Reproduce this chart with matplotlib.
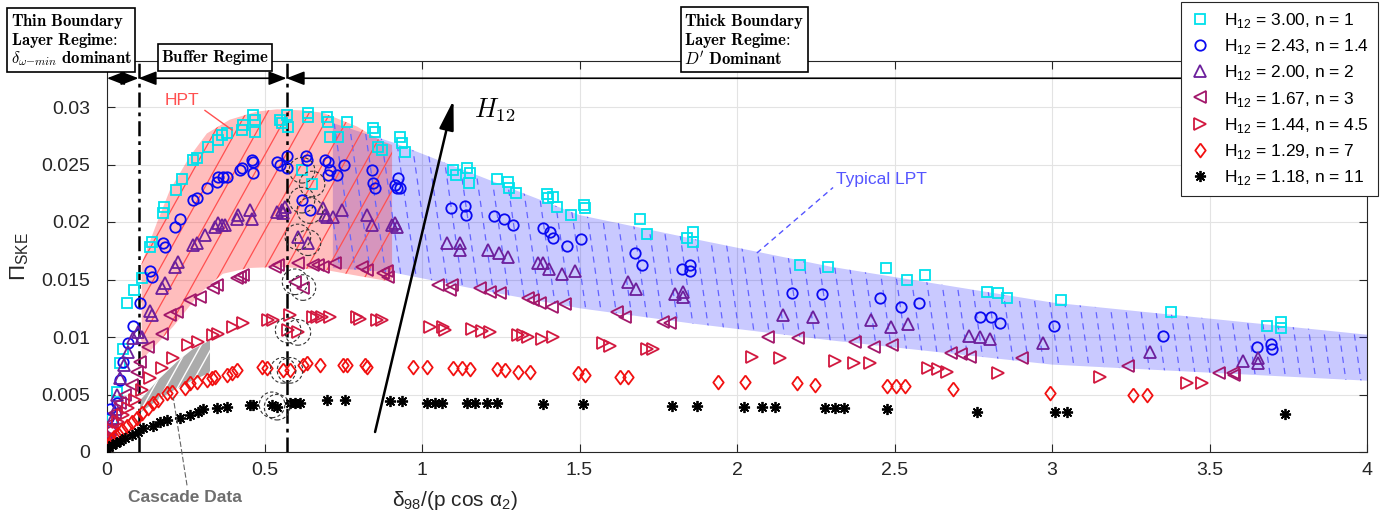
import numpy as np
import matplotlib
matplotlib.use('Agg')
import matplotlib.pyplot as plt
from matplotlib.collections import LineCollection
from matplotlib.ticker import FuncFormatter

plt.rcParams['font.family'] = ['Liberation Sans', 'DejaVu Sans']
plt.rcParams['mathtext.fontset'] = 'dejavusans'

# ---------------- data (x = delta98/(p cos a2), y = Pi_SKE) ----------------
cyan_pts = [(0.003,0.0010),(0.016,0.0028),(0.032,0.0052),(0.041,0.0077),(0.051,0.0090),(0.063,0.0130),
            (0.086,0.0141),(0.111,0.0151),(0.137,0.0178),(0.143,0.0183),(0.178,0.0208),(0.181,0.0213),
            (0.219,0.0228),(0.238,0.0237),(0.273,0.0254),(0.286,0.0256),(0.321,0.0265),(0.352,0.0271),
            (0.365,0.0276),(0.381,0.0277),(0.429,0.0280),(0.432,0.0284),(0.463,0.0293),(0.470,0.0289),
            (0.470,0.0278),(0.549,0.0289),(0.556,0.0286),(0.571,0.0293),(0.575,0.0283),(0.638,0.0295),
            (0.638,0.0291),(0.698,0.0291),(0.702,0.0287),(0.708,0.0274),(0.733,0.0274),(0.762,0.0287),
            (0.844,0.0282),(0.851,0.0278),(0.860,0.0265),(0.873,0.0263),(0.930,0.0274),(0.937,0.0269),
            (0.946,0.0261),(1.098,0.0245),(1.108,0.0241),(1.143,0.0247),(1.152,0.0243),(1.149,0.0234),
            (1.238,0.0237),(1.273,0.0235),(1.276,0.0230),(1.298,0.0225),(1.397,0.0224),(1.400,0.0221),
            (1.416,0.0222),(1.429,0.0213),(1.473,0.0206),(1.514,0.0215),(1.517,0.0212),(1.692,0.0203),
            (1.714,0.0190),(1.841,0.0186),(1.860,0.0191),(1.860,0.0183),(2.200,0.0163),(2.289,0.0161),
            (2.473,0.0160),(2.540,0.0150),(2.597,0.0154),(2.794,0.0139),(2.829,0.0138),(2.857,0.0134),
            (3.029,0.0132),(3.378,0.0122),(3.683,0.0110),(3.727,0.0113),(3.727,0.0108)]
blue_pts = [(0.010,0.0019),(0.003,0.0030),(0.010,0.0037),(0.032,0.0043),(0.041,0.0063),(0.051,0.0078),
            (0.067,0.0095),(0.083,0.0110),(0.105,0.0130),(0.137,0.0157),(0.143,0.0152),(0.178,0.0182),
            (0.184,0.0178),(0.216,0.0196),(0.232,0.0203),(0.273,0.0219),(0.286,0.0221),(0.317,0.0230),
            (0.349,0.0235),(0.352,0.0239),(0.368,0.0239),(0.381,0.0239),(0.422,0.0245),(0.429,0.0247),
            (0.460,0.0254),(0.463,0.0252),(0.463,0.0243),(0.540,0.0252),(0.549,0.0250),(0.571,0.0257),
            (0.571,0.0247),(0.632,0.0257),(0.635,0.0254),(0.692,0.0254),(0.702,0.0252),(0.708,0.0245),
            (0.702,0.0241),(0.730,0.0241),(0.752,0.0250),(0.841,0.0245),(0.844,0.0234),(0.851,0.0230),
            (0.914,0.0232),(0.924,0.0238),(0.930,0.0230),(0.921,0.0230),(1.092,0.0212),(1.137,0.0214),
            (1.140,0.0206),(1.229,0.0205),(1.260,0.0203),(1.289,0.0197),(1.384,0.0195),(1.406,0.0191),
            (1.416,0.0186),(1.460,0.0179),(1.505,0.0185),(1.676,0.0173),(1.698,0.0163),(1.825,0.0159),
            (1.851,0.0163),(1.851,0.0157),(2.175,0.0138),(2.270,0.0137),(2.454,0.0134),(2.521,0.0126),
            (2.578,0.0130),(2.771,0.0117),(2.806,0.0117),(2.835,0.0112),(3.006,0.0110),(3.352,0.0101),
            (3.651,0.0091),(3.695,0.0094),(3.698,0.0090)]
purple_pts = [(0.003,0.0013),(0.019,0.0030),(0.029,0.0037),(0.032,0.0050),(0.041,0.0064),(0.054,0.0076),
              (0.067,0.0087),(0.083,0.0099),(0.098,0.0104),(0.111,0.0100),(0.137,0.0123),(0.143,0.0119),
              (0.175,0.0143),(0.184,0.0147),(0.216,0.0161),(0.225,0.0165),(0.273,0.0180),(0.286,0.0182),
              (0.311,0.0189),(0.343,0.0196),(0.352,0.0199),(0.365,0.0197),(0.375,0.0197),(0.413,0.0203),
              (0.416,0.0206),(0.454,0.0210),(0.460,0.0203),(0.540,0.0209),(0.556,0.0210),(0.565,0.0213),
              (0.559,0.0208),(0.686,0.0212),(0.692,0.0206),(0.698,0.0204),(0.717,0.0204),(0.746,0.0210),
              (0.825,0.0206),(0.841,0.0197),(0.905,0.0197),(0.914,0.0199),(0.921,0.0196),(1.079,0.0182),
              (1.121,0.0182),(1.121,0.0176),(1.210,0.0176),(1.244,0.0173),(1.273,0.0170),(1.368,0.0164),
              (1.384,0.0164),(1.403,0.0159),(1.444,0.0155),(1.486,0.0157),(1.654,0.0148),(1.679,0.0142),
              (1.803,0.0137),(1.829,0.0139),(1.829,0.0135),(2.146,0.0119),(2.241,0.0117),(2.425,0.0115),
              (2.489,0.0109),(2.543,0.0111),(2.737,0.0101),(2.771,0.0100),(2.803,0.0098),(2.971,0.0095),
              (3.311,0.0087),(3.606,0.0079),(3.654,0.0082),(3.654,0.0077)]
left_pts = [(0.000,0.0010),(0.010,0.0019),(0.016,0.0025),(0.025,0.0034),(0.041,0.0043),(0.057,0.0050),
            (0.079,0.0058),(0.095,0.0070),(0.105,0.0078),(0.130,0.0091),(0.175,0.0103),(0.200,0.0119),
            (0.222,0.0122),(0.263,0.0132),(0.295,0.0135),(0.337,0.0143),(0.349,0.0145),(0.413,0.0151),
            (0.422,0.0152),(0.432,0.0154),(0.533,0.0161),(0.543,0.0163),(0.606,0.0164),(0.654,0.0163),
            (0.670,0.0163),(0.686,0.0161),(0.724,0.0164),(0.810,0.0161),(0.825,0.0158),(0.876,0.0156),
            (0.889,0.0157),(0.892,0.0152),(1.051,0.0145),(1.095,0.0145),(1.089,0.0141),(1.184,0.0143),
            (1.216,0.0139),(1.248,0.0138),(1.337,0.0134),(1.352,0.0132),(1.375,0.0130),(1.413,0.0126),
            (1.454,0.0129),(1.619,0.0122),(1.644,0.0117),(1.765,0.0113),(1.787,0.0112),(2.098,0.0100),
            (2.194,0.0099),(2.375,0.0096),(2.435,0.0091),(2.492,0.0093),(2.679,0.0086),(2.711,0.0085),
            (2.740,0.0083),(2.905,0.0082),(3.241,0.0075),(3.530,0.0069),(3.575,0.0069),(3.578,0.0067)]
right_pts = [(0.010,0.0013),(0.019,0.0019),(0.035,0.0026),(0.051,0.0032),(0.067,0.0038),(0.089,0.0045),
             (0.111,0.0054),(0.137,0.0064),(0.175,0.0073),(0.210,0.0082),(0.257,0.0093),(0.289,0.0096),
             (0.337,0.0102),(0.352,0.0103),(0.400,0.0109),(0.432,0.0112),(0.511,0.0115),(0.527,0.0115),
             (0.581,0.0119),(0.654,0.0117),(0.667,0.0117),(0.683,0.0117),(0.708,0.0117),(0.794,0.0117),
             (0.803,0.0116),(0.857,0.0115),(0.873,0.0115),(1.025,0.0109),(1.067,0.0109),(1.073,0.0106),
             (1.159,0.0107),(1.190,0.0105),(1.216,0.0104),(1.305,0.0102),(1.321,0.0102),(1.337,0.0100),
             (1.381,0.0098),(1.416,0.0100),(1.575,0.0095),(1.597,0.0092),(1.714,0.0090),(1.733,0.0090),
             (2.048,0.0083),(2.137,0.0082),(2.311,0.0079),(2.371,0.0077),(2.422,0.0077),(2.606,0.0073),
             (2.638,0.0072),(2.667,0.0070),(2.829,0.0069),(3.152,0.0065),(3.429,0.0060),(3.476,0.0060)]
diamond_pts = [(0.003,0.0005),(0.013,0.0010),(0.022,0.0013),(0.035,0.0016),(0.048,0.0019),(0.063,0.0023),
               (0.079,0.0026),(0.095,0.0030),(0.111,0.0034),(0.130,0.0038),(0.146,0.0043),(0.162,0.0045),
               (0.190,0.0051),(0.206,0.0052),(0.248,0.0056),(0.263,0.0060),(0.286,0.0061),(0.317,0.0063),
               (0.333,0.0064),(0.343,0.0065),(0.381,0.0067),(0.397,0.0069),(0.413,0.0071),(0.492,0.0074),
               (0.508,0.0073),(0.622,0.0076),(0.635,0.0077),(0.676,0.0076),(0.749,0.0076),(0.762,0.0076),
               (0.819,0.0076),(0.825,0.0074),(0.971,0.0074),(1.016,0.0074),(1.098,0.0073),(1.127,0.0073),
               (1.152,0.0072),(1.238,0.0072),(1.263,0.0071),(1.305,0.0070),(1.343,0.0070),(1.495,0.0069),
               (1.517,0.0067),(1.629,0.0065),(1.654,0.0065),(1.940,0.0061),(2.025,0.0061),(2.190,0.0060),
               (2.248,0.0058),(2.476,0.0057),(2.505,0.0057),(2.533,0.0057),(2.686,0.0055),(2.994,0.0051),
               (3.257,0.0050),(3.302,0.0050)]
star_pts = [(0.000,0.0002),(0.006,0.0004),(0.016,0.0006),(0.029,0.0008),(0.041,0.0010),(0.057,0.0012),
            (0.079,0.0015),(0.098,0.0017),(0.114,0.0021),(0.146,0.0023),(0.168,0.0026),(0.190,0.0028),
            (0.232,0.0030),(0.263,0.0032),(0.289,0.0035),(0.305,0.0037),(0.349,0.0038),(0.381,0.0039),
            (0.454,0.0041),(0.463,0.0041),(0.581,0.0043),(0.597,0.0043),(0.613,0.0043),(0.698,0.0045),
            (0.756,0.0045),(0.898,0.0044),(0.937,0.0044),(1.016,0.0043),(1.041,0.0043),(1.063,0.0043),
            (1.143,0.0043),(1.168,0.0043),(1.206,0.0043),(1.238,0.0043),(1.384,0.0042),(1.511,0.0042),
            (1.794,0.0040),(1.873,0.0040),(2.022,0.0039),(2.079,0.0039),(2.121,0.0039),(2.279,0.0038),
            (2.311,0.0038),(2.340,0.0038),(2.476,0.0037),(2.762,0.0035),(3.010,0.0035),(3.048,0.0035),
            (3.740,0.0033)]

# circled (highlighted) points, one pair per series
circled = [[(0.619,0.0245),(0.651,0.0233)],
           [(0.619,0.0219),(0.644,0.0210)],
           [(0.606,0.0187),(0.638,0.0182)],
           [(0.597,0.0148),(0.622,0.0143)],
           [(0.575,0.0106),(0.606,0.0104)],
           [(0.559,0.0071),(0.581,0.0071)],
           [(0.524,0.0041),(0.540,0.0039)]]

labels = ['3.00, n = 1', '2.43, n = 1.4', '2.00, n = 2', '1.67, n = 3',
          '1.44, n = 4.5', '1.29, n = 7', '1.18, n = 11']

# shaded regions
hpt_top_x = [0.11, 0.158, 0.20, 0.263, 0.317, 0.39, 0.475, 0.54, 0.622, 0.686, 0.794, 0.867, 0.905]
hpt_top_y = [0.0164, 0.0199, 0.0228, 0.0257, 0.0277, 0.0289, 0.0296, 0.0298, 0.0297, 0.0295, 0.0283, 0.0271, 0.0267]
hpt_bot_x = [0.11, 0.21, 0.295, 0.368, 0.45, 0.55, 0.70, 0.80, 0.905]
hpt_bot_y = [0.0080, 0.0109, 0.0138, 0.0155, 0.0160, 0.0161, 0.0158, 0.0153, 0.0148]
lpt_top_x = [0.717, 0.91, 1.2, 1.5, 1.85, 2.3, 3.0, 4.0]
lpt_top_y = [0.0286, 0.0269, 0.0238, 0.0206, 0.0186, 0.0161, 0.0130, 0.0102]
lpt_bot_x = [0.717, 0.91, 1.2, 1.5, 1.85, 2.3, 3.0, 4.0]
lpt_bot_y = [0.0160, 0.0156, 0.0140, 0.0125, 0.0112, 0.0097, 0.0076, 0.0062]
cas_top_x = [0.105, 0.16, 0.22, 0.27, 0.327]
cas_top_y = [0.0045, 0.0062, 0.0078, 0.0089, 0.0097]
cas_bot_x = [0.105, 0.16, 0.22, 0.27, 0.327]
cas_bot_y = [0.0034, 0.0045, 0.0055, 0.0062, 0.0069]

regime_bounds = [0.0, 0.1, 0.57, 4.0]

# ---------------- figure ----------------
W, H = 1393, 525
fig = plt.figure(figsize=(W / 100, H / 100), dpi=100)
ax = fig.add_axes([107 / W, 1 - 452 / H, 1260 / W, 391 / H])
ax.set_xlim(0, 4)
ax.set_ylim(0, 0.034)


def hatch(patch, slope, spacing_px, **kw):
    pos = ax.get_position()
    w = pos.width * W
    h = pos.height * H
    dx_full = h / slope
    starts = np.arange(-abs(dx_full) - spacing_px, w + abs(dx_full) + spacing_px, spacing_px)
    segs = [[(s / w, 0), ((s + dx_full) / w, 1)] for s in starts]
    lc = LineCollection(segs, transform=ax.transAxes, **kw)
    ax.add_collection(lc, autolim=False)
    lc.set_clip_path(patch)


lpt = ax.fill(list(lpt_top_x) + lpt_bot_x[::-1], list(lpt_top_y) + lpt_bot_y[::-1],
              color='#0000ff', alpha=0.21, lw=0, zorder=1)[0]
hatch(lpt, -7.0, 15, colors='#6464ff', linewidths=0.9, linestyles=(0, (5, 4)), zorder=1.5)
hpt = ax.fill(list(hpt_top_x) + hpt_bot_x[::-1], list(hpt_top_y) + hpt_bot_y[::-1],
              color='#ff0000', alpha=0.26, lw=0, zorder=1.2)[0]
hatch(hpt, 1.8, 21, colors='#ff5050', linewidths=0.9, zorder=1.6)
cas = ax.fill(list(cas_top_x) + cas_bot_x[::-1], list(cas_top_y) + cas_bot_y[::-1],
              color='#ababab', lw=0, zorder=1.3)[0]
hatch(cas, 1.8, 12, colors='white', linewidths=1.0, zorder=1.7)

diamond = [(0, 1), (0.75, 0), (0, -1), (-0.75, 0), (0, 1)]
styles = [('s', '#00e1ec', 6.5), ('o', '#0a0af0', 7.5), ('^', '#6c1f9c', 8.5),
          ('<', '#a2176b', 8.5), ('>', '#d2183f', 8.5), (diamond, '#f21010', 10),
          ((8, 2, 0), 'black', 8)]
all_pts = [cyan_pts, blue_pts, purple_pts, left_pts, right_pts, diamond_pts, star_pts]
handles = []
for pts, extra, lab, (m, c, ms) in zip(all_pts, circled, labels, styles):
    xs, ys = zip(*(pts + extra))
    ln, = ax.plot(xs, ys, ls='none', marker=m, mfc='none', mec=c, mew=1.3, ms=ms,
                  zorder=5, label='H$_{\\mathregular{12}}$ = ' + lab)
    handles.append(ln)
    cx, cy = zip(*extra)
    ax.scatter(cx, cy, s=340, facecolors='none', edgecolors='#333333', linewidths=0.8,
               linestyles=(0, (3, 2)), zorder=6)

# regime lines and arrows
for xb in regime_bounds[1:3]:
    ax.axvline(xb, color='black', lw=1.8, ls=(0, (6, 2, 1.5, 2)), zorder=4)
for a, b in zip(regime_bounds[:-1], regime_bounds[1:]):
    ax.annotate('', xy=(a, 0.0325), xytext=(b, 0.0325),
                arrowprops=dict(arrowstyle='<|-|>,head_length=0.9,head_width=0.35', color='black',
                                lw=1.2, shrinkA=0, shrinkB=0, mutation_scale=12), zorder=4)

# H12 arrow
ax.annotate('', xy=(1.10, 0.0306), xytext=(0.851, 0.00174),
            arrowprops=dict(arrowstyle='-|>,head_length=0.9,head_width=0.22', color='black',
                            lw=1.8, shrinkA=0, shrinkB=0, mutation_scale=20), zorder=7)
ax.text(1.165, 0.0297, '$H_{12}$', fontsize=19, math_fontfamily='cm', va='center', ha='left')

# annotations
ax.plot([0.311, 0.397], [0.0297, 0.0280], color='#ff5050', lw=1.0, zorder=7)
ax.text(0.184, 0.0306, 'HPT', color='#ff5050', fontsize=12.5, va='center', ha='left')
ax.plot([2.063, 2.305], [0.0173, 0.0230], color='#5555ff', lw=1.0, ls=(0, (4, 3)), zorder=7)
ax.text(2.314, 0.0237, 'Typical LPT', color='#5555ff', fontsize=12.5, va='center', ha='left')
ax.plot([0.254, 0.21], [-0.0029, 0.0048], color='#666666', lw=0.8, ls=(0, (5, 2)),
        clip_on=False, zorder=7)
ax.text(0.248, -0.0040, 'Cascade Data', color='#6e6e6e', fontsize=12.5, fontweight='bold',
        va='center', ha='center', clip_on=False)

# regime boxes
box = dict(boxstyle='square,pad=0.22', fc='white', ec='black', lw=1.2)
colon = '\\hspace{-0.2}\\mathbf{:}'
fig.text(71 / W, 1 - 40 / H,
         '$\\mathbf{Thin\\ Boundary}$\n$\\mathbf{Layer\\ Regime}' + colon + '$\n'
         '$\\delta_{\\omega{-}min}$ $\\mathbf{dominant}$',
         math_fontfamily='cm', fontsize=12, ha='center', va='center', multialignment='left',
         bbox=box, linespacing=1.0, zorder=10)
fig.text(215 / W, 1 - 57.5 / H, '$\\mathbf{Buffer\\ Regime}$', math_fontfamily='cm', fontsize=12,
         ha='center', va='center', bbox=box, zorder=10)
fig.text(744.5 / W, 1 - 40.5 / H,
         "$\\mathbf{Thick\\ Boundary}$\n$\\mathbf{Layer\\ Regime}" + colon + "$\n"
         "$D'$ $\\mathbf{Dominant}$",
         math_fontfamily='cm', fontsize=12, ha='center', va='center', multialignment='left',
         bbox=box, linespacing=1.0, zorder=10)

# axes styling
ax.set_xticks(np.arange(0, 4.01, 0.5))
ax.set_yticks(np.arange(0, 0.0301, 0.005))
fmt = FuncFormatter(lambda v, p: f'{round(v, 4):g}')
ax.xaxis.set_major_formatter(fmt)
ax.yaxis.set_major_formatter(fmt)
ax.tick_params(direction='in', top=True, right=True, length=6, width=0.8, labelsize=14,
               color='#262626', labelcolor='#262626')
ax.tick_params(axis='y', pad=12)
ax.tick_params(axis='x', pad=7)
for sp in ax.spines.values():
    sp.set_color('#262626')
    sp.set_linewidth(0.8)
ax.grid(True, color='#e3e3e3', lw=0.8)
ax.set_axisbelow(True)
ax.set_ylabel('Π$_\\mathregular{SKE}$', fontsize=16, color='#262626')
ax.yaxis.set_label_coords(-0.06, 0.5)
ax.set_xlabel('δ$_\\mathregular{98}$/(p cos α$_\\mathregular{2}$)', fontsize=15, color='#262626')
ax.xaxis.set_label_coords(0.276, -0.095)

leg = fig.legend(handles=handles, loc='upper right', bbox_to_anchor=(1378 / W, 1 - 2 / H),
                 bbox_transform=fig.transFigure, fontsize=12.5, frameon=True, fancybox=False,
                 edgecolor='#262626', framealpha=1, borderpad=0.5, handlelength=1.2,
                 handletextpad=0.8, labelspacing=0.42, borderaxespad=0)
leg.get_frame().set_linewidth(0.8)
leg.set_zorder(20)

fig.savefig('out.png', dpi=100)
